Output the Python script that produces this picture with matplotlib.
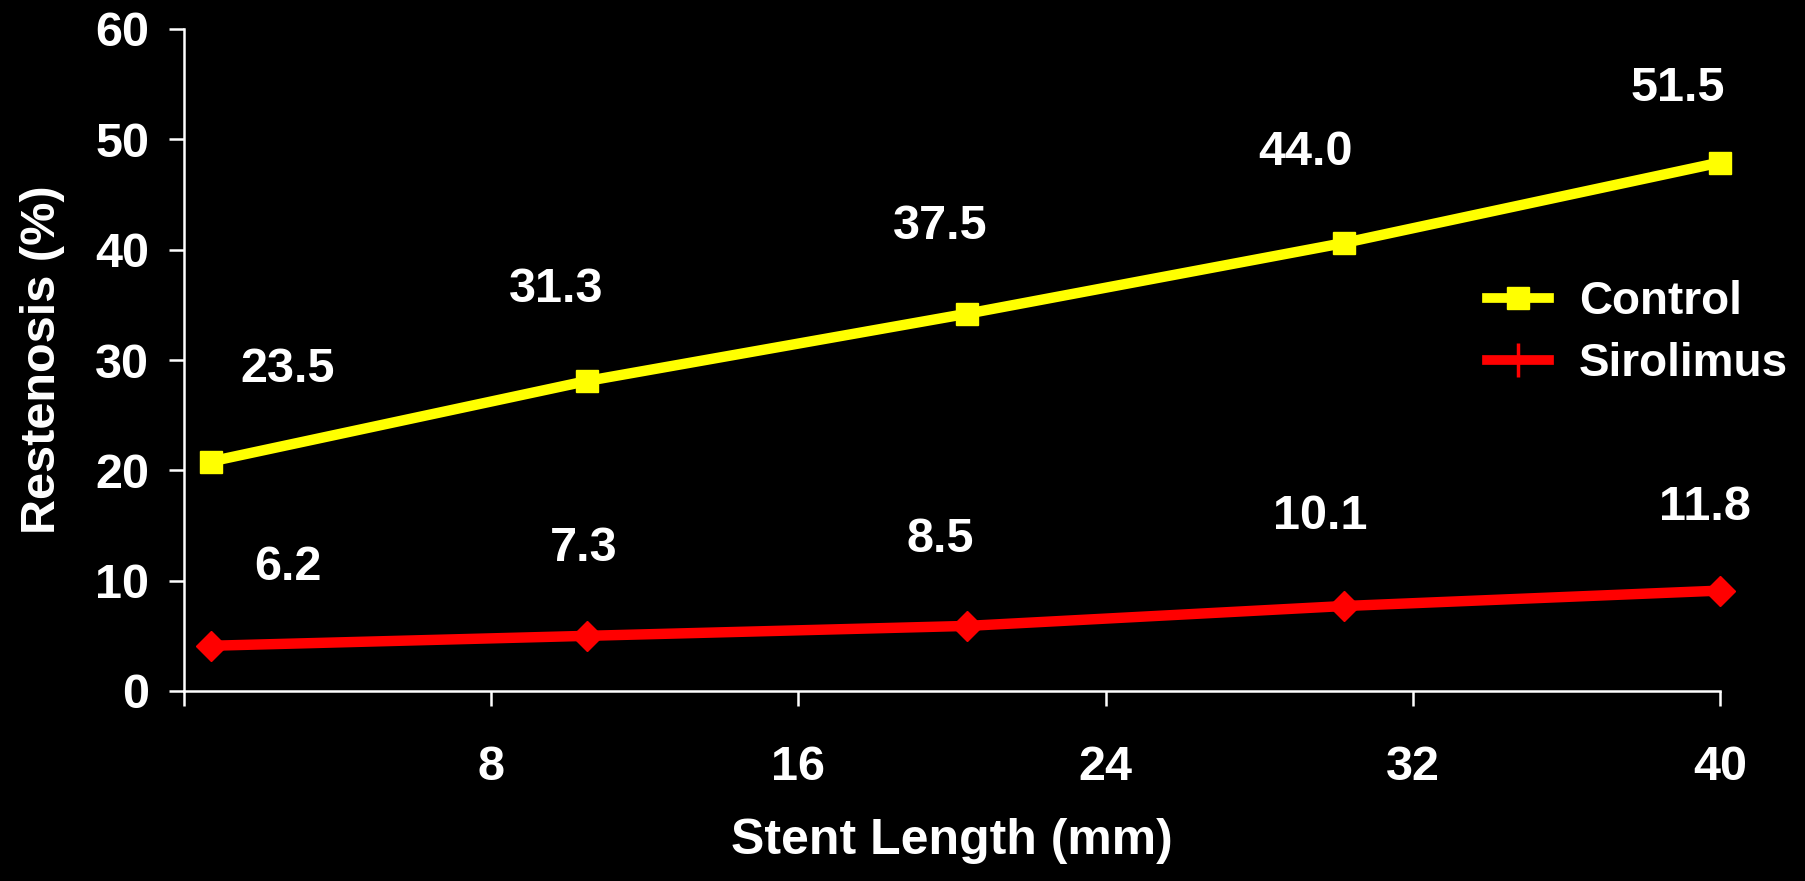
import matplotlib
matplotlib.use("Agg")
import matplotlib.pyplot as plt
from matplotlib.lines import Line2D

plt.rcParams['font.family'] = ['Liberation Sans', 'DejaVu Sans']
plt.rcParams['font.weight'] = 'bold'

# data
stent_len = [0.7, 10.5, 20.4, 30.2, 40.0]
control = [20.8, 28.1, 34.2, 40.6, 47.9]
sirolimus = [4.1, 5.0, 5.9, 7.7, 9.1]
control_labels = ['23.5', '31.3', '37.5', '44.0', '51.5']
sirolimus_labels = ['6.2', '7.3', '8.5', '10.1', '11.8']
x_ticks = [0, 8, 16, 24, 32, 40]
x_ticklabels = ['', '8', '16', '24', '32', '40']
y_ticks = [0, 10, 20, 30, 40, 50, 60]

# label offsets from the points (data units)
control_off = [(2.0, 8.3), (-0.8, 8.3), (-0.7, 7.9), (-1.0, 8.2), (-1.1, 6.7)]
sirolimus_off = [(2.0, 7.1), (-0.1, 7.9), (-0.7, 7.8), (-0.6, 8.1), (-0.4, 7.5)]

fig = plt.figure(figsize=(18.06, 8.81), dpi=100, facecolor='black')
ax = fig.add_axes([184 / 1806, 1 - 691 / 881, (1720 - 184) / 1806, (691 - 29) / 881])
ax.set_facecolor('black')

ax.plot(stent_len, control, color='#FFFF00', lw=7.5, marker='s', ms=16, clip_on=False, zorder=3)
ax.plot(stent_len, sirolimus, color='#FF0000', lw=7.5, marker='D', ms=15, clip_on=False, zorder=3)

for x, y, t, (dx, dy) in zip(stent_len, control, control_labels, control_off):
    ax.text(x + dx, y + dy, t, color='white', fontsize=35, fontweight='bold', ha='center', va='center')
for x, y, t, (dx, dy) in zip(stent_len, sirolimus, sirolimus_labels, sirolimus_off):
    ax.text(x + dx, y + dy, t, color='white', fontsize=35, fontweight='bold', ha='center', va='center')

ax.set_xlim(0, 40)
ax.set_ylim(0, 60)
ax.set_xticks(x_ticks)
ax.set_xticklabels(x_ticklabels)
ax.set_yticks(y_ticks)

for s in ['top', 'right']:
    ax.spines[s].set_visible(False)
for s in ['left', 'bottom']:
    ax.spines[s].set_color('white')
    ax.spines[s].set_linewidth(1.8)

ax.tick_params(axis='both', colors='white', direction='out', length=11, width=1.8, labelsize=35)
ax.tick_params(axis='x', pad=28)
ax.tick_params(axis='y', pad=14)
for lab in ax.get_xticklabels() + ax.get_yticklabels():
    lab.set_fontweight('bold')

ax.set_xlabel('Stent Length (mm)', color='white', fontsize=36, fontweight='bold', labelpad=20)
ax.set_ylabel('Restenosis (%)', color='white', fontsize=35, fontweight='bold', labelpad=22)

handles = [
    Line2D([], [], color='#FFFF00', lw=7, marker='s', ms=16),
    Line2D([], [], color='#FF0000', lw=7, marker='|', ms=24, mew=2.5),
]
leg = ax.legend(handles, ['Control', 'Sirolimus'], loc='center left',
                bbox_to_anchor=(1446 / 1806, 1 - 333 / 881), bbox_transform=fig.transFigure,
                frameon=False, fontsize=33, handlelength=1.35, labelspacing=0.4,
                handletextpad=0.65)
for t in leg.get_texts():
    t.set_color('white')
    t.set_fontweight('bold')

fig.savefig('out.png', dpi=100, facecolor='black')
